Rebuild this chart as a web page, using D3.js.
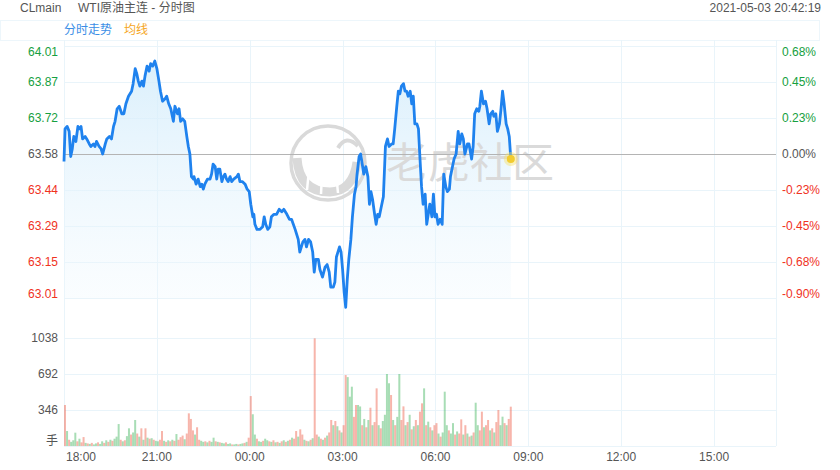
<!DOCTYPE html>
<html>
<head>
<meta charset="utf-8">
<script src="https://cdn.jsdelivr.net/npm/d3@7/dist/d3.min.js"></script>
<style>
html,body{margin:0;padding:0;background:#fff;}
svg{display:block;font-family:"Liberation Sans",Arial,"Noto Sans CJK SC",sans-serif;}
</style>
</head>
<body>
<svg id="chart" width="840" height="470"></svg>
<script>
// ---------------- data ----------------
const symbol = "CLmain";
const title = "WTI原油主连 - 分时图";
const stamp = "2021-05-03 20:42:19";
const legendItems = ["分时走势", "均线"];
const prevClose = 63.58;
const priceTickLabels = ["64.01", "63.87", "63.72", "63.58", "63.44", "63.29", "63.15", "63.01"];
const pctTickLabels = ["0.68%", "0.45%", "0.23%", "0.00%", "-0.23%", "-0.45%", "-0.68%", "-0.90%"];
const priceStep = 0.1433;
const volTickLabels = ["1038", "692", "346"];
const volUnit = "手";
const timeTickLabels = ["18:00", "21:00", "00:00", "03:00", "06:00", "09:00", "12:00", "15:00"];
const sessionMinutes = 1380; // 18:00 -> 17:00

// minutes since 18:00 for each traced price point
const minutes = [
  0,2,6,10,13,16,19,23,27,30,
  33,36,41,44,49,52,57,60,63,68,
  72,75,80,83,88,92,96,99,103,107,
  112,116,120,125,128,131,134,138,141,144,
  147,151,154,157,161,165,168,172,176,180,
  184,187,191,196,199,203,207,212,215,220,
  223,226,230,234,238,241,244,247,251,252,
  256,260,264,267,270,273,278,283,286,289,
  293,296,299,302,306,309,312,315,318,322,
  325,329,335,338,341,346,351,355,359,362,
  366,368,370,374,377,380,385,388,391,395,
  399,402,407,412,417,422,426,432,437,441,
  448,454,457,463,467,470,474,478,482,485,
  488,493,496,501,506,510,514,517,522,525,
  528,534,537,540,543,546,549,552,556,559,
  563,566,568,572,575,578,581,585,589,592,
  595,598,602,605,608,611,614,619,623,627,
  630,635,638,641,645,648,651,654,658,661,
  664,667,671,674,677,680,684,687,690,693,
  696,700,703,706,709,713,716,719,722,725,
  729,733,736,740,743,747,749,753,756,760,
  764,767,771,774,777,782,785,790,793,796,
  800,804,806,809,813,817,820,824,827,831,
  833,837,840,844,847,850,853,857,860,863,
  866
];
const prices = [
  63.55,63.68,63.69,63.67,63.57,63.60,63.65,63.63,63.69,63.68,
  63.69,63.64,63.65,63.64,63.62,63.61,63.62,63.61,63.63,63.61,
  63.60,63.58,63.62,63.64,63.65,63.64,63.69,63.71,63.76,63.77,
  63.74,63.74,63.78,63.81,63.82,63.83,63.86,63.92,63.90,63.87,
  63.85,63.87,63.85,63.89,63.93,63.91,63.94,63.93,63.95,63.92,
  63.87,63.83,63.79,63.80,63.81,63.78,63.76,63.71,63.77,63.74,
  63.76,63.71,63.72,63.71,63.65,63.61,63.58,63.49,63.48,63.49,
  63.46,63.48,63.45,63.46,63.44,63.46,63.48,63.48,63.50,63.54,
  63.53,63.48,63.52,63.52,63.47,63.49,63.50,63.48,63.47,63.49,
  63.47,63.48,63.49,63.50,63.47,63.47,63.46,63.44,63.43,63.38,
  63.33,63.34,63.30,63.28,63.28,63.28,63.29,63.33,63.30,63.28,
  63.29,63.33,63.34,63.34,63.36,63.35,63.36,63.34,63.32,63.32,
  63.28,63.24,63.19,63.23,63.24,63.21,63.24,63.23,63.19,63.11,
  63.16,63.16,63.12,63.09,63.13,63.14,63.11,63.05,63.05,63.07,
  63.17,63.21,63.19,63.12,63.03,62.97,63.08,63.16,63.24,63.33,
  63.42,63.45,63.50,63.57,63.58,63.54,63.50,63.53,63.49,63.38,
  63.43,63.40,63.34,63.30,63.34,63.33,63.36,63.41,63.61,63.64,
  63.61,63.62,63.62,63.68,63.77,63.83,63.82,63.85,63.86,63.83,
  63.83,63.81,63.83,63.78,63.81,63.70,63.70,63.68,63.56,63.45,
  63.38,63.42,63.30,63.34,63.38,63.33,63.42,63.33,63.34,63.30,
  63.32,63.30,63.50,63.45,63.43,63.44,63.49,63.53,63.56,63.58,
  63.67,63.62,63.66,63.64,63.58,63.62,63.62,63.56,63.61,63.74,
  63.76,63.75,63.77,63.83,63.78,63.79,63.76,63.70,63.74,63.75,
  63.73,63.74,63.67,63.70,63.76,63.83,63.78,63.70,63.68,63.65,
  63.56
];

// volume, one bar per 4-minute slot (peak minute volume in the slot)
const volStep = 4;
const volumes = [
  394,144,60,40,55,128,45,70,35,86,
  30,25,20,30,15,25,35,20,45,30,
  55,40,60,50,70,90,211,60,45,55,
  95,170,110,130,250,120,90,170,60,170,
  80,70,75,60,50,45,60,144,50,40,
  55,45,60,50,115,60,85,100,65,120,
  314,260,150,110,180,60,50,40,45,35,
  50,40,80,45,40,35,30,25,35,20,
  25,15,15,20,15,20,25,30,40,80,
  480,305,110,70,45,40,50,70,55,45,
  40,55,35,40,30,45,55,40,50,60,
  80,70,144,90,160,110,60,50,45,60,
  75,1035,110,90,70,60,80,100,130,250,
  200,240,190,150,130,200,682,662,474,570,
  280,394,394,380,200,260,180,250,368,200,
  230,554,200,170,240,300,692,603,490,250,
  200,280,692,250,381,200,230,300,160,190,
  250,200,330,410,554,200,234,180,150,200,
  220,120,90,130,522,200,150,120,220,110,
  140,120,256,110,200,120,90,100,130,416,
  200,150,330,180,200,250,150,170,130,230,
  346,200,282,220,200,260,378
];
const volDir = (
  "rgrgggrgrr" + "grgrggrggr" + "grgrgggrgr" + "ggrggrgrgr" +
  "grgrggrrgr" + "grgrgrrrgr" + "rrrgrrggrg" + "rggrgrggrg" +
  "grggrggrgr" + "rggrggrggr" + "grgrgrgrgr" + "grrgrrgrgr" +
  "grrgrgrgrr" + "grgrgrrggg" + "rrggrgrgrg" + "rrgrggggrg" +
  "rggrrgrgrg" + "rgrrgrgrgr" + "rgrgggrggr" + "grrgrgrgrg" +
  "grrgrrgrgr" + "rggrgrr"
).split("");

// ---------------- layout ----------------
const svg = d3.select("#chart");
const L = 64, R = 776;
const priceTop = 46, priceBot = 298;
const volTop = 338, volBot = 446;
const gridColor = "#e9f4fa";
const upColor = "#16a040", downColor = "#f0321e", flatColor = "#555";

const x = d3.scaleLinear().domain([0, sessionMinutes]).range([L, R]);
const y = d3.scaleLinear()
  .domain([prevClose - 4 * priceStep, prevClose + 3 * priceStep])
  .range([priceBot, priceTop]);
const yv = d3.scaleLinear().domain([0, +volTickLabels[0]]).range([volBot, volTop]);

// header
svg.append("text").attr("x", 20).attr("y", 12).attr("font-size", 12).attr("fill", "#555").text(symbol);
svg.append("text").attr("x", 78).attr("y", 12).attr("font-size", 12).attr("fill", "#555").text(title);
svg.append("text").attr("x", 821).attr("y", 12).attr("font-size", 12).attr("fill", "#555")
  .attr("text-anchor", "end").text(stamp);

// legend box
svg.append("rect").attr("x", 0.5).attr("y", 20.5).attr("width", 819).attr("height", 20)
  .attr("fill", "none").attr("stroke", "#edf6fb");
svg.append("text").attr("x", 64).attr("y", 34).attr("font-size", 12).attr("fill", "#3a8ee6").text(legendItems[0]);
svg.append("text").attr("x", 124).attr("y", 34).attr("font-size", 12).attr("fill", "#f5a623").text(legendItems[1]);

// grid
const g = svg.append("g");
const timeTicks = timeTickLabels.map((t, i) => i * 180);
g.selectAll("line.vg").data(timeTicks.concat([sessionMinutes])).enter().append("line")
  .attr("x1", d => Math.round(x(d)) + 0.5).attr("x2", d => Math.round(x(d)) + 0.5)
  .attr("y1", 40).attr("y2", volBot).attr("stroke", gridColor);
const priceTickVals = priceTickLabels.map((t, i) => prevClose + (3 - i) * priceStep);
g.selectAll("line.hg").data(priceTickVals.filter((d, i) => i !== 3)).enter().append("line")
  .attr("x1", L).attr("x2", R)
  .attr("y1", d => Math.round(y(d)) + 0.5).attr("y2", d => Math.round(y(d)) + 0.5)
  .attr("stroke", gridColor);
const volTickVals = volTickLabels.map(Number).concat([0]);
g.selectAll("line.vhg").data(volTickVals).enter().append("line")
  .attr("x1", L).attr("x2", R)
  .attr("y1", d => Math.round(yv(d)) + 0.5).attr("y2", d => Math.round(yv(d)) + 0.5)
  .attr("stroke", gridColor);

// price axis labels
const colorFor = i => i < 3 ? upColor : (i === 3 ? flatColor : downColor);
priceTickLabels.forEach((t, i) => {
  let yy = y(priceTickVals[i]) + 4;
  if (i === 0) yy += 6;
  if (i === priceTickLabels.length - 1) yy -= 4;
  svg.append("text").attr("x", 58).attr("y", yy).attr("font-size", 12)
    .attr("text-anchor", "end").attr("fill", colorFor(i)).text(t);
  svg.append("text").attr("x", 782).attr("y", yy).attr("font-size", 12)
    .attr("fill", colorFor(i)).text(pctTickLabels[i]);
});
volTickLabels.forEach(t => {
  svg.append("text").attr("x", 58).attr("y", yv(+t) + 4).attr("font-size", 12)
    .attr("text-anchor", "end").attr("fill", "#555").text(t);
});
svg.append("text").attr("x", 58).attr("y", volBot - 1).attr("font-size", 12)
  .attr("text-anchor", "end").attr("fill", "#555").text(volUnit);

// time labels
timeTickLabels.forEach((t, i) => {
  svg.append("text").attr("x", i === 0 ? x(timeTicks[i]) + 2 : x(timeTicks[i]))
    .attr("y", 461).attr("font-size", 12).attr("fill", "#555")
    .attr("text-anchor", i === 0 ? "start" : "middle").text(t);
});

// area fill
const pts = minutes.map((m, i) => [m, prices[i]]).filter(d => d[1] !== undefined);
const defs = svg.append("defs");
const grad = defs.append("linearGradient").attr("id", "fillGrad")
  .attr("gradientUnits", "userSpaceOnUse").attr("x1", 0).attr("y1", priceTop + 10).attr("x2", 0).attr("y2", priceBot);
grad.append("stop").attr("offset", "0%").attr("stop-color", "#d3ecfb").attr("stop-opacity", 0.85);
grad.append("stop").attr("offset", "100%").attr("stop-color", "#eef8fe").attr("stop-opacity", 0.3);
const area = d3.area().x(d => x(d[0])).y0(priceBot).y1(d => y(d[1]));
svg.append("path").datum(pts).attr("d", area).attr("fill", "url(#fillGrad)");

// watermark
const wm = svg.append("g");
wm.append("circle").attr("cx", 328).attr("cy", 163).attr("r", 37)
  .attr("fill", "none").attr("stroke", "#d9d9d9").attr("stroke-width", 3.5);
wm.append("path").attr("d", "M297,158 Q299,192 330,192 Q353,191 357,162")
  .attr("fill", "none").attr("stroke", "#d9d9d9").attr("stroke-width", 9);
wm.append("path").attr("d", "M309,170 L307,190 M322,174 L321,194 M336,173 L338,193")
  .attr("stroke", "#fff").attr("stroke-width", 2.5);
wm.append("path").attr("d", "M338,148 Q346,134 358,146")
  .attr("fill", "none").attr("stroke", "#d9d9d9").attr("stroke-width", 4);
wm.append("text").attr("x", 386).attr("y", 178).attr("font-size", 42)
  .attr("font-family", "'Noto Sans CJK SC',sans-serif").attr("font-weight", 400)
  .attr("fill", "#dadada").text("老虎社区");

// previous close line
svg.append("line").attr("x1", L).attr("x2", R)
  .attr("y1", Math.round(y(prevClose)) + 0.5).attr("y2", Math.round(y(prevClose)) + 0.5)
  .attr("stroke", "#b4b4b4");

// price line
const line = d3.line().x(d => x(d[0])).y(d => y(d[1]));
svg.append("path").datum(pts).attr("d", line).attr("fill", "none")
  .attr("stroke", "#1f82ee").attr("stroke-width", 2.8).attr("stroke-linejoin", "round");

// end dot
const last = pts[pts.length - 1];
svg.append("circle").attr("cx", x(last[0])).attr("cy", y(last[1])).attr("r", 7)
  .attr("fill", "#f7df6a").attr("opacity", 0.45);
svg.append("circle").attr("cx", x(last[0])).attr("cy", y(last[1])).attr("r", 4)
  .attr("fill", "#f2cc30");

// volume bars
const vb = svg.append("g");
volumes.forEach((v, i) => {
  const xx = x(i * volStep);
  const up = volDir[i] === "r";
  vb.append("rect").attr("x", xx).attr("width", 2)
    .attr("y", yv(v)).attr("height", volBot - yv(v))
    .attr("fill", up ? "#ee5a44" : "#3db35a").attr("opacity", 0.45);
});
</script>
</body>
</html>
